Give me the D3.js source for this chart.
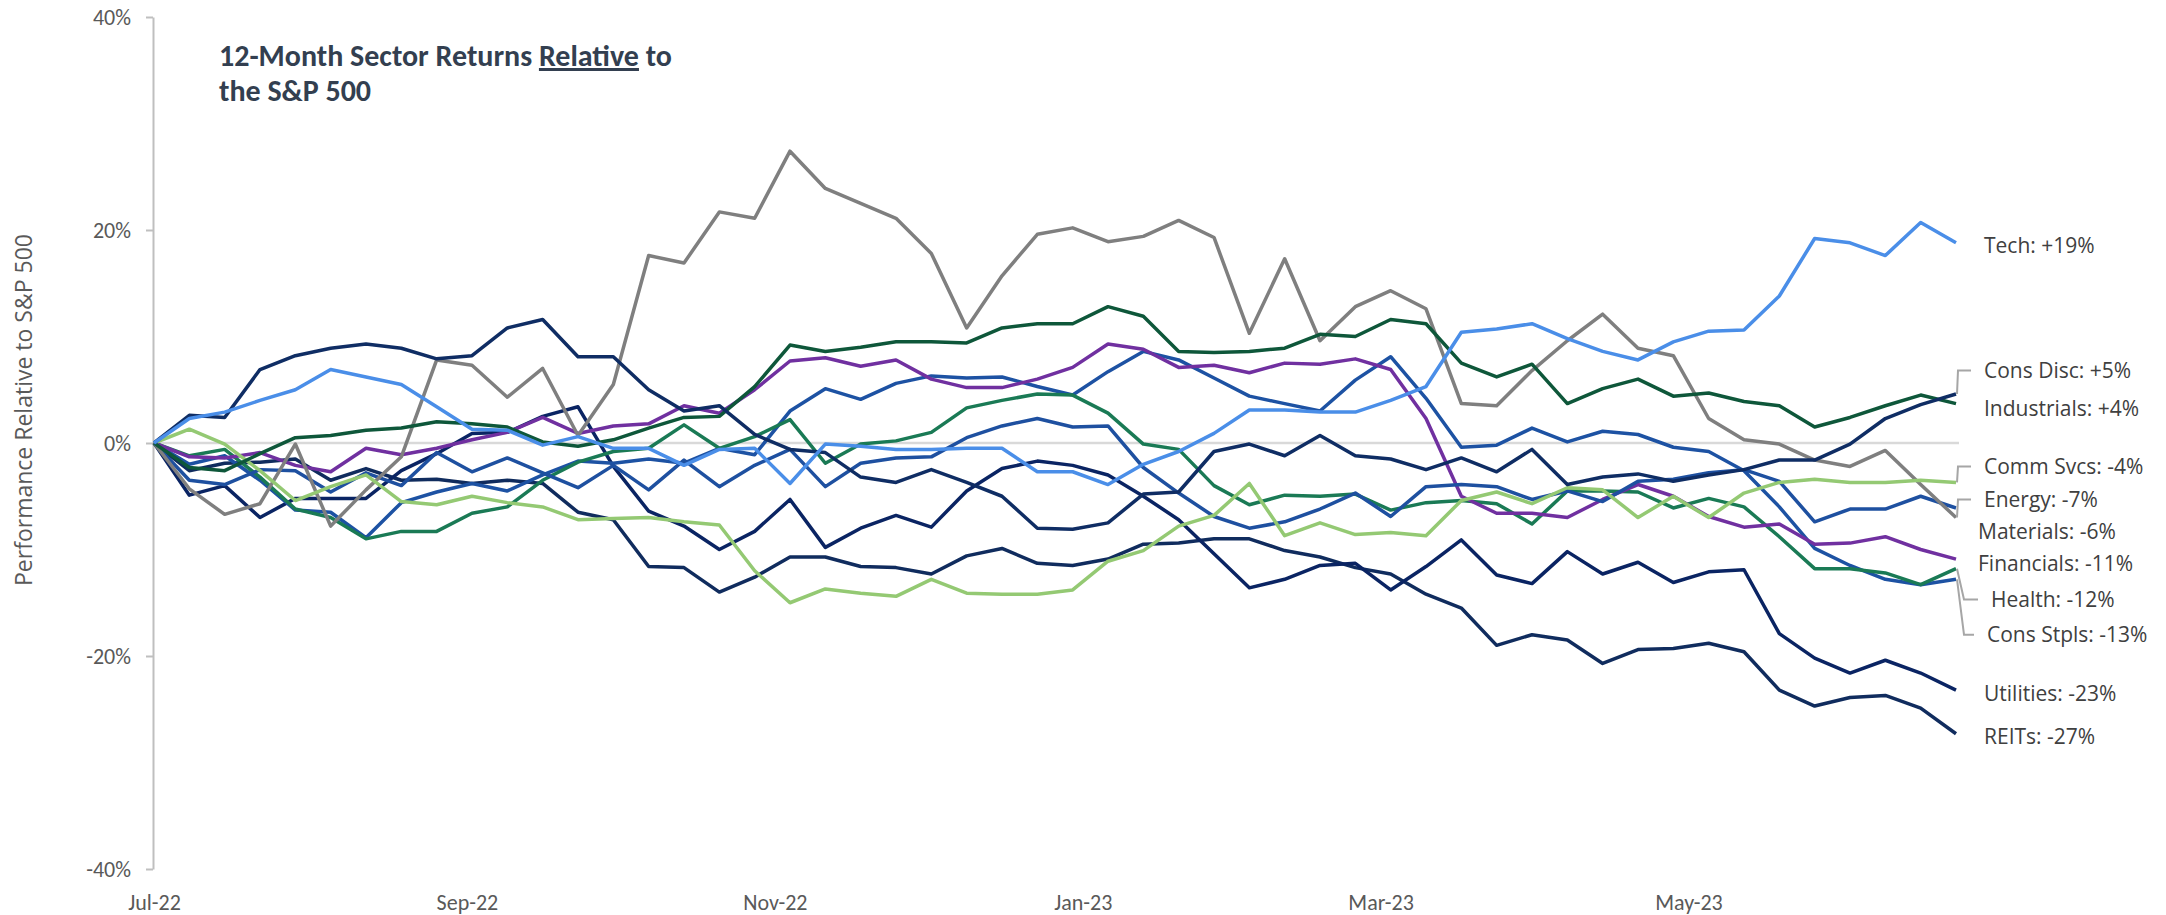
<!DOCTYPE html>
<html>
<head>
<meta charset="utf-8">
<script src="https://d3js.org/d3.v7.min.js"></script>
<style>
body, html {
  margin: 0;
  padding: 0;
  background: #fff;
}
.axis text {
  font-family: Carlito, "Liberation Sans Narrow", "Roboto Condensed", Roboto, sans-serif;
  font-size: 22px;
  fill: #595959;
}
.axis line, .axis path {
  stroke: #bfbfbf;
  stroke-width: 2;
}
.ytitle {
  font-family: "Open Sans", "DejaVu Sans", sans-serif;
  font-size: 23px;
  fill: #595959;
}
.title {
  font-family: Carlito, "Liberation Sans Narrow", Roboto, sans-serif;
  font-weight: bold;
  font-size: 30px;
  fill: #333f50;
}
.endlabel {
  font-family: "Open Sans", "DejaVu Sans", sans-serif;
  font-size: 21px;
  fill: #404040;
}
.series {
  fill: none;
  stroke-width: 3.5;
  stroke-linejoin: round;
}
</style>
</head>
<body>
<div id="chart"></div>
<script>

// weekly observations, first one on 1 Jul 2022
var startDate = new Date(2022, 6, 1);

// relative return vs S&P 500, in %
var tech = [0, 2.3, 2.9, 4.0, 5.0, 6.9, 6.2, 5.5, 3.4, 1.3, 1.2, -0.2,
  0.6, -0.5, -0.5, -2.1, -0.6, -0.5, -3.8, -0.1, -0.3, -0.6, -0.6,
  -0.5, -0.5, -2.7, -2.7, -3.9, -2.0, -0.8, 0.9, 3.1, 3.1, 2.9,
  2.9, 4.0, 5.3, 10.4, 10.7, 11.2, 9.8, 8.6, 7.8, 9.5, 10.5, 10.6,
  13.8, 19.2, 18.8, 17.6, 20.7, 18.8];
var consDisc = [0, 2.6, 2.4, 6.9, 8.2, 8.9, 9.3, 8.9, 7.9, 8.2, 10.8, 11.6,
  8.1, 8.1, 5.0, 3.0, 3.5, 0.8, -0.6, -0.9, -3.2, -3.7, -2.5,
  -3.7, -5.0, -8.0, -8.1, -7.5, -4.8, -4.6, -0.8, -0.1, -1.2, 0.7,
  -1.2, -1.5, -2.5, -1.4, -2.7, -0.6, -3.9, -3.2, -2.9, -3.6, -3.0, -2.5,
  -1.6, -1.6, -0.1, 2.3, 3.6, 4.6];
var industrials = [0, -2.3, -2.6, -1.0, 0.5, 0.7, 1.2, 1.4, 2.0, 1.8, 1.5, 0.1,
  -0.3, 0.3, 1.4, 2.4, 2.5, 5.3, 9.2, 8.6, 9.0, 9.5, 9.5,
  9.4, 10.8, 11.2, 11.2, 12.8, 11.9, 8.6, 8.5, 8.6, 8.9, 10.2,
  10.0, 11.6, 11.2, 7.5, 6.2, 7.4, 3.7, 5.1, 6.0, 4.4, 4.7, 3.9,
  3.5, 1.5, 2.4, 3.5, 4.5, 3.7];
var commSvcs = [0, 1.3, -0.1, -2.6, -5.4, -4.1, -3.0, -5.5, -5.8, -5.0, -5.6, -6.0,
  -7.2, -7.1, -7.0, -7.4, -7.7, -12.0, -15.0, -13.7, -14.1, -14.4, -12.8,
  -14.1, -14.2, -14.2, -13.8, -11.1, -10.1, -7.8, -6.8, -3.8, -8.7, -7.5,
  -8.6, -8.4, -8.7, -5.4, -4.6, -5.7, -4.2, -4.4, -7.0, -5.0, -7.0, -4.7,
  -3.7, -3.4, -3.7, -3.7, -3.5, -3.7];
var energy = [0, -4.3, -6.7, -5.7, -0.1, -7.8, -4.4, -1.3, 7.8, 7.3, 4.3, 7.0,
  0.7, 5.5, 17.6, 16.9, 21.7, 21.1, 27.4, 23.9, 22.5, 21.1, 17.8,
  10.8, 15.7, 19.6, 20.2, 18.9, 19.4, 20.9, 19.3, 10.3, 17.3, 9.6,
  12.8, 14.3, 12.6, 3.7, 3.5, 6.8, 9.6, 12.1, 8.9, 8.2, 2.3, 0.3,
  -0.1, -1.6, -2.2, -0.7, -3.9, -7.0];
var materials = [0, -3.5, -3.9, -2.5, -2.6, -4.6, -2.8, -4.0, -0.9, -2.7, -1.4, -2.8,
  -4.2, -2.1, -4.4, -1.6, -4.1, -2.1, -0.6, -4.1, -1.9, -1.4, -1.3,
  0.5, 1.6, 2.3, 1.5, 1.6, -2.3, -4.7, -6.9, -8.0, -7.4, -6.2,
  -4.7, -6.9, -4.1, -3.9, -4.1, -5.3, -4.5, -5.5, -3.6, -3.4, -2.8, -2.5,
  -3.6, -7.4, -6.2, -6.2, -5.0, -6.1];
var financials = [0, -1.3, -1.4, -0.9, -2.1, -2.7, -0.5, -1.1, -0.5, 0.3, 1.0, 2.4,
  0.9, 1.6, 1.8, 3.5, 2.8, 5.0, 7.7, 8.0, 7.2, 7.8, 6.0,
  5.2, 5.2, 6.0, 7.1, 9.3, 8.8, 7.1, 7.3, 6.6, 7.5, 7.4,
  7.9, 6.9, 2.3, -5.0, -6.6, -6.6, -7.0, -5.3, -3.9, -5.0, -6.9, -7.9,
  -7.6, -9.5, -9.4, -8.8, -10.0, -10.9];
var health = [0, -1.2, -0.6, -3.2, -6.2, -7.0, -9.0, -8.3, -8.3, -6.6, -6.0, -3.5,
  -1.8, -0.8, -0.5, 1.7, -0.5, 0.6, 2.2, -1.9, -0.1, 0.2, 1.0,
  3.3, 4.0, 4.6, 4.5, 2.8, -0.1, -0.6, -4.0, -5.8, -4.9, -5.0,
  -4.8, -6.3, -5.6, -5.4, -5.7, -7.6, -4.5, -4.5, -4.6, -6.1, -5.2, -6.0,
  -8.8, -11.8, -11.8, -12.2, -13.3, -11.8];
var consStpls = [0, -2.0, -1.2, -3.5, -6.3, -6.5, -8.9, -5.6, -4.6, -3.8, -4.5, -3.0,
  -1.7, -1.9, -1.5, -1.9, -0.5, -1.1, 3.0, 5.1, 4.1, 5.6, 6.3,
  6.1, 6.2, 5.3, 4.5, 6.7, 8.6, 7.8, 6.1, 4.4, 3.7, 3.0,
  5.9, 8.1, 4.2, -0.4, -0.2, 1.4, 0.1, 1.1, 0.8, -0.4, -0.8, -2.6,
  -6.0, -9.9, -11.5, -12.8, -13.3, -12.8];
var utilities = [0, -4.9, -4.0, -7.0, -5.2, -5.2, -5.2, -2.6, -1.0, 0.9, 1.0, 2.5,
  3.4, -2.2, -6.4, -7.8, -10.0, -8.3, -5.3, -9.8, -8.0, -6.8, -7.9,
  -4.5, -2.4, -1.7, -2.1, -3.0, -5.0, -7.2, -10.4, -13.6, -12.8, -11.5,
  -11.3, -13.8, -11.6, -9.1, -12.4, -13.2, -10.2, -12.3, -11.2, -13.1, -12.1, -11.9,
  -17.9, -20.2, -21.6, -20.4, -21.6, -23.2];
var reits = [0, -2.6, -1.9, -1.8, -1.5, -3.5, -2.4, -3.5, -3.4, -3.8, -3.5, -3.8,
  -6.5, -7.2, -11.6, -11.7, -14.0, -12.6, -10.7, -10.7, -11.6, -11.7, -12.3,
  -10.6, -9.9, -11.3, -11.5, -10.9, -9.5, -9.4, -9.0, -9.0, -10.1, -10.7,
  -11.7, -12.3, -14.2, -15.5, -19.0, -18.0, -18.5, -20.7, -19.4, -19.3, -18.8, -19.6,
  -23.2, -24.7, -23.9, -23.7, -24.9, -27.3];

var names = ["Tech", "Cons Disc", "Industrials", "Comm Svcs", "Energy", "Materials",
  "Financials", "Health", "Cons Stpls", "Utilities", "REITs"];
var endText = ["+19%", "+5%", "+4%", "-4%", "-7%", "-6%", "-11%", "-12%", "-13%", "-23%", "-27%"];
var yTicks = [-40, -20, 0, 20, 40];

var allSeries = [tech, consDisc, industrials, commSvcs, energy, materials,
  financials, health, consStpls, utilities, reits];

var colors = ["#4a8ee8", "#0f2d64", "#0e573a", "#94c973", "#7f7f7f", "#1e50a0",
  "#7030a0", "#1a7a55", "#1d52a3", "#0a2463", "#102c5e"];

// label placement on the right (label centre in % units, x nudge, leader line?)
var labelAt = [18.5, 6.8, 3.2, -2.2, -5.3, -8.3, -11.3, -14.7, -18.0, -23.5, -27.6];
var labelDx = [28, 28, 28, 28, 28, 22, 22, 35, 31, 28, 28];
var hasLeader = [false, true, false, true, true, false, false, true, true, false, false];

var width = 2166,
    height = 915;

var dates = d3.range(tech.length).map(function(i) { return d3.timeDay.offset(startDate, 7 * i); });

var svg = d3.select('#chart').append('svg')
  .attr('width', width)
  .attr('height', height);

var x = d3.scaleTime()
  .domain([dates[0], dates[dates.length - 1]])
  .range([154, 1956]);

var y = d3.scaleLinear()
  .domain([-40, 40])
  .range([869, 17]);

// zero line
svg.append('line')
  .attr('x1', 153).attr('x2', x(dates[dates.length - 1]) + 3)
  .attr('y1', y(0)).attr('y2', y(0))
  .attr('stroke', '#d9d9d9')
  .attr('stroke-width', 2.5);

// y axis
var yAxis = svg.append('g')
  .attr('class', 'axis')
  .attr('transform', 'translate(153,0)')
  .call(d3.axisLeft(y).tickValues(yTicks).tickSize(7).tickSizeOuter(0).tickPadding(15)
    .tickFormat(function(d) { return d + '%'; }));

// x axis labels
var xAxis = svg.append('g')
  .attr('class', 'axis')
  .attr('transform', 'translate(0,880)')
  .call(d3.axisBottom(x).ticks(d3.timeMonth.every(2)).tickSize(0).tickPadding(14)
    .tickFormat(d3.timeFormat('%b-%y')));
xAxis.select('.domain').remove();

svg.append('text')
  .attr('class', 'ytitle')
  .attr('transform', 'translate(32,410) rotate(-90)')
  .attr('text-anchor', 'middle')
  .text('Performance Relative to S&P 500');

// title
var title = svg.append('text').attr('class', 'title').attr('x', 219).attr('y', 66);
title.append('tspan').text('12-Month Sector Returns ');
title.append('tspan').attr('text-decoration', 'underline').text('Relative');
title.append('tspan').text(' to');
svg.append('text').attr('class', 'title').attr('x', 219).attr('y', 101).text('the S&P 500');

var line = d3.line()
  .x(function(d, i) { return x(dates[i]); })
  .y(function(d) { return y(d); });

// draw back to front so Tech sits on top
for (var k = allSeries.length - 1; k >= 0; k--) {
  svg.append('path')
    .datum(allSeries[k])
    .attr('class', 'series')
    .attr('stroke', colors[k])
    .attr('d', line);
}

var xEnd = x(dates[dates.length - 1]);

names.forEach(function(n, k) {
  var ly = y(labelAt[k]);
  if (hasLeader[k]) {
    var yEnd = y(allSeries[k][allSeries[k].length - 1]);
    var bend = labelDx[k] > 30 ? xEnd + 8 : xEnd + 2;
    svg.append('path')
      .attr('d', 'M' + (xEnd + 1) + ',' + yEnd + 'L' + bend + ',' + ly + 'L' + (xEnd + labelDx[k] - 13) + ',' + ly)
      .attr('fill', 'none')
      .attr('stroke', '#a6a6a6')
      .attr('stroke-width', 2);
  }
  svg.append('text')
    .attr('class', 'endlabel')
    .attr('x', xEnd + labelDx[k])
    .attr('y', ly)
    .attr('dy', '0.35em')
    .text(n + ': ' + endText[k]);
});

</script>
</body>
</html>
